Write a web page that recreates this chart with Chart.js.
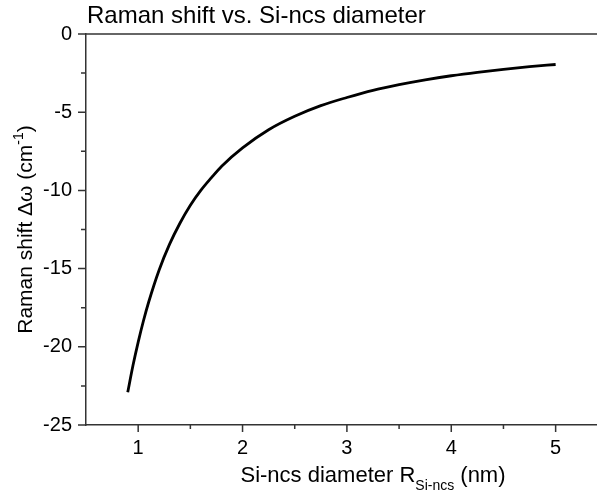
<!DOCTYPE html>
<html>
<head>
<meta charset="utf-8">
<script src="https://cdn.jsdelivr.net/npm/chart.js@4"></script>
<style>
  html, body { margin: 0; padding: 0; background: #fff; overflow: hidden; }
  #wrap { width: 660px; height: 495px; }
</style>
</head>
<body>
<div id="wrap"><canvas id="mycanvas"></canvas></div>
<script>
// diameter (nm) and Raman shift (cm-1)
var diameter = [0.9, 0.95, 1.0, 1.05, 1.1, 1.2, 1.3, 1.4, 1.5, 1.6, 1.7, 1.8, 2.0, 2.25, 2.5, 2.75, 3.0, 3.25, 3.5, 3.75, 4.0, 4.25, 4.5, 4.75, 5.0];
var shift    = [-22.9, -21.2, -19.7, -18.35, -17.15, -15.1, -13.45, -12.1, -10.95, -10.0, -9.2, -8.45, -7.28, -6.12, -5.26, -4.58, -4.06, -3.6, -3.24, -2.93, -2.67, -2.45, -2.26, -2.09, -1.95];

var xMajor = [1, 2, 3, 4, 5];
var xMinor = [1.5, 2.5, 3.5, 4.5, 5.5];
var yMajor = [0, -5, -10, -15, -20, -25];
var yMinor = [-2.5, -7.5, -12.5, -17.5, -22.5];

var FONT = "'Liberation Sans', Arial, sans-serif";

var points = [];
for (var i in diameter) {
  points.push({ x: diameter[i], y: shift[i] });
}

// frame top line, tick marks, title and axis titles with sub/superscripts
var decor = {
  id: 'decor',
  afterDraw: function(chart) {
    var c = chart.ctx;
    var a = chart.chartArea;
    var xs = chart.scales.x, ys = chart.scales.y;
    c.save();
    c.strokeStyle = '#333';
    c.lineWidth = 1.5;
    c.beginPath();
    c.moveTo(a.left, a.top);
    c.lineTo(a.right, a.top);
    c.stroke();

    function xt(v, len) {
      var p = xs.getPixelForValue(v);
      c.moveTo(p, a.bottom); c.lineTo(p, a.bottom + len);
    }
    function yt(v, len) {
      var p = ys.getPixelForValue(v);
      c.moveTo(a.left, p); c.lineTo(a.left - len, p);
    }
    c.beginPath();
    xMajor.forEach(function(v){ xt(v, 7); });
    xMinor.forEach(function(v){ xt(v, 4); });
    yMajor.forEach(function(v){ yt(v, 8); });
    yMinor.forEach(function(v){ yt(v, 5); });
    c.stroke();

    c.fillStyle = '#000';
    c.textBaseline = 'alphabetic';
    c.textAlign = 'left';

    // chart title
    c.font = '24px ' + FONT;
    c.fillText('Raman shift vs. Si-ncs diameter', a.left + 1, 23);

    // x axis title
    var big = '22px ' + FONT, small = '14px ' + FONT;
    var p1 = 'Si-ncs diameter R', p2 = 'Si-ncs', p3 = ' (nm)';
    c.font = big; var w1 = c.measureText(p1).width, w3 = c.measureText(p3).width;
    c.font = small; var w2 = c.measureText(p2).width;
    var x0 = (a.left + a.right) / 2 - (w1 + w2 + w3) / 2, base = 482;
    c.font = big; c.fillText(p1, x0, base);
    c.font = small; c.fillText(p2, x0 + w1, base + 8);
    c.font = big; c.fillText(p3, x0 + w1 + w2, base);

    // y axis title (rotated)
    var ybig = '21px ' + FONT;
    var q1 = 'Raman shift \u0394\u03c9 (cm', q2 = '-1', q3 = ')';
    c.font = ybig; var v1 = c.measureText(q1).width, v3 = c.measureText(q3).width;
    c.font = small; var v2 = c.measureText(q2).width;
    c.translate(32, (a.top + a.bottom) / 2);
    c.rotate(-Math.PI / 2);
    var s0 = -(v1 + v2 + v3) / 2;
    c.font = ybig; c.fillText(q1, s0, 0);
    c.font = small; c.fillText(q2, s0 + v1, -9);
    c.font = ybig; c.fillText(q3, s0 + v1 + v2, 0);
    c.restore();
  }
};

var ctx = document.getElementById('mycanvas');

var RamanGraph = new Chart(ctx, {
  type: 'scatter',
  data: {
    datasets: [
      {
        label: 'Raman shift',
        data: points,
        showLine: true,
        cubicInterpolationMode: 'monotone',
        borderColor: '#000',
        borderWidth: 2.8,
        pointRadius: 0,
        fill: false
      }
    ]
  },
  options: {
    responsive: true,
    maintainAspectRatio: false,
    animation: false,
    layout: { padding: { top: 34, right: 0, left: 0, bottom: 0 } },
    plugins: {
      legend: { display: false },
      tooltip: { enabled: false }
    },
    scales: {
      x: {
        type: 'linear',
        min: 0.5,
        max: 6,
        afterBuildTicks: function(scale) {
          scale.ticks = xMajor.map(function(v){ return { value: v }; });
        },
        afterFit: function(scale) { scale.height = 70; },
        grid: { display: false, drawTicks: false },
        border: { display: true, color: '#333', width: 1.5 },
        ticks: {
          color: '#000',
          font: { family: FONT, size: 20 },
          padding: 11,
          maxRotation: 0,
          autoSkip: false,
          callback: function(v) { return String(v); }
        }
      },
      y: {
        type: 'linear',
        min: -25,
        max: 0,
        afterBuildTicks: function(scale) {
          scale.ticks = yMajor.map(function(v){ return { value: v }; });
        },
        afterFit: function(scale) { scale.width = 86; },
        grid: { display: false, drawTicks: false },
        border: { display: true, color: '#333', width: 1.5 },
        ticks: {
          color: '#000',
          font: { family: FONT, size: 20 },
          padding: 14,
          autoSkip: false,
          callback: function(v) { return String(v); }
        }
      }
    }
  },
  plugins: [decor]
});
</script>
</body>
</html>
